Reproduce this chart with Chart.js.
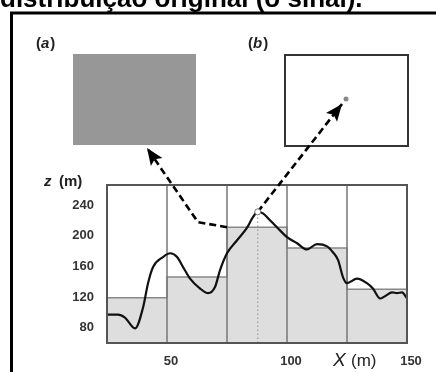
<!DOCTYPE html>
<html>
<head>
<meta charset="utf-8">
<script src="https://cdn.jsdelivr.net/npm/chart.js@4.4.0/dist/chart.umd.min.js"></script>
<style>
  body { margin: 0; background: #fff; }
  canvas { display: block; }
</style>
</head>
<body>
<canvas id="graph" width="436" height="372"></canvas>
<script>
// bins of 25 m and the mean height z in each
const binEdges = [25, 50, 75, 100, 125, 150];
const binMeans = [119, 146, 211, 184, 130];

// terrain profile z(x)
const curveX = [25, 29.6, 32.5, 36.7, 40, 42.1, 44.2, 48.3, 51.3, 54.2, 56.7, 59.6, 63.8, 67.1, 70, 72.1,
  75, 79.2, 83.3, 85.8, 87.8, 90, 92.9, 95.8, 100, 104.2, 108.3, 112.5, 116.7, 119.2, 121.3, 123.3,
  125, 129.2, 133.3, 135.8, 138.8, 140.8, 143.8, 145.8, 147.9, 150];
const curveZ = [97, 97, 93, 79, 106, 138, 159, 172, 177, 172, 159, 144, 131, 125, 133, 155,
  177, 194, 210, 224, 231, 229, 220, 211, 198, 190, 182, 189, 186, 178, 168, 146,
  138, 144, 138, 131, 118, 121, 126, 125, 126, 118];

// sampled point (peak)
const peakX = 87.8;
const peakZ = 231;

const xTicks = [50, 100, 150];
const yTicks = [80, 120, 160, 200, 240];
const yMin = 60, yMax = 266;

const FONT = '"Liberation Sans", Arial, sans-serif';

function dashedArrow(ctx, pts) {
  ctx.save();
  ctx.strokeStyle = '#000';
  ctx.fillStyle = '#000';
  ctx.lineWidth = 2.6;
  ctx.setLineDash([7, 4]);
  ctx.beginPath();
  pts.forEach((p, i) => i ? ctx.lineTo(p[0], p[1]) : ctx.moveTo(p[0], p[1]));
  ctx.stroke();
  const [x1, y1] = pts[pts.length - 2];
  const [x2, y2] = pts[pts.length - 1];
  const ang = Math.atan2(y2 - y1, x2 - x1);
  const len = 17, half = 7;
  const c = Math.cos(ang), s = Math.sin(ang);
  ctx.setLineDash([]);
  ctx.beginPath();
  ctx.moveTo(x2, y2);
  ctx.lineTo(x2 - len * c + half * s, y2 - len * s - half * c);
  ctx.lineTo(x2 - len * c * 0.8, y2 - len * s * 0.8);
  ctx.lineTo(x2 - len * c - half * s, y2 - len * s + half * c);
  ctx.closePath();
  ctx.fill();
  ctx.restore();
}

const figure = {
  id: 'figure',
  afterDatasetDraw(chart, args) {
    if (args.index !== 3) return;
    // bin dividers, full height
    const {ctx, chartArea: a, scales: {x}} = chart;
    ctx.save();
    ctx.strokeStyle = '#777';
    ctx.lineWidth = 1.5;
    binEdges.slice(1, -1).forEach(e => {
      const px = x.getPixelForValue(e);
      ctx.beginPath();
      ctx.moveTo(px, a.top);
      ctx.lineTo(px, a.bottom);
      ctx.stroke();
    });
    ctx.restore();
  },
  afterDraw(chart) {
    const {ctx, chartArea: a, scales: {x, y}} = chart;
    ctx.save();

    // plot frame
    ctx.strokeStyle = '#555';
    ctx.lineWidth = 2;
    ctx.strokeRect(a.left, a.top, a.right - a.left, a.bottom - a.top);

    // outer slide frame
    ctx.strokeStyle = '#000';
    ctx.lineWidth = 3;
    ctx.beginPath();
    ctx.moveTo(11.5, 372);
    ctx.lineTo(11.5, 13);
    ctx.lineTo(436, 13);
    ctx.stroke();

    // cut title
    let size = 21;
    const title = 'distribuição original (o sinal).';
    ctx.font = 'bold ' + size + 'px ' + FONT;
    size = size * 363 / ctx.measureText(title).width;
    ctx.font = 'bold ' + size.toFixed(1) + 'px ' + FONT;
    ctx.fillStyle = '#000';
    ctx.textBaseline = 'alphabetic';
    ctx.textAlign = 'left';
    ctx.fillText(title, 0, 7);

    // panel (a): filled cell
    ctx.fillStyle = '#979797';
    ctx.fillRect(73, 54, 123, 91);
    // panel (b): point support
    ctx.strokeStyle = '#333';
    ctx.lineWidth = 2;
    ctx.strokeRect(285, 55, 123, 91);
    ctx.fillStyle = '#888';
    ctx.beginPath();
    ctx.arc(346, 99, 2.5, 0, Math.PI * 2);
    ctx.fill();

    // panel labels
    ctx.fillStyle = '#222';
    [['(', 'a', ')', 36], ['(', 'b', ')', 248]].forEach(([o, l, c, x0]) => {
      let cx = x0;
      ctx.font = 'bold 15px ' + FONT; ctx.fillText(o, cx, 48); cx += ctx.measureText(o).width;
      ctx.font = 'italic bold 15px ' + FONT; ctx.fillText(l, cx, 48); cx += ctx.measureText(l).width + 1;
      ctx.font = 'bold 15px ' + FONT; ctx.fillText(c, cx, 48);
    });

    // arrows
    const bx = x.getPixelForValue(binEdges[2]);
    const by = y.getPixelForValue(binMeans[2]);
    dashedArrow(ctx, [[bx, by], [bx - 29, by - 5], [147, 148]]);
    const px = x.getPixelForValue(peakX);
    const py = y.getPixelForValue(peakZ);
    dashedArrow(ctx, [[px, py], [342, 104]]);

    // sampled point marker
    ctx.fillStyle = '#fff';
    ctx.strokeStyle = '#777';
    ctx.lineWidth = 1;
    ctx.beginPath();
    ctx.arc(px, py, 3, 0, Math.PI * 2);
    ctx.fill();
    ctx.stroke();

    // axis titles
    ctx.fillStyle = '#222';
    ctx.font = 'italic bold 15px ' + FONT;
    ctx.fillText('z', 44, 186);
    ctx.font = 'bold 15px ' + FONT;
    ctx.fillText('(m)', 59, 186);
    ctx.font = 'italic 19px ' + FONT;
    ctx.fillText('X', 333, 366);
    ctx.font = '17px ' + FONT;
    ctx.fillText('(m)', 351, 366);

    ctx.restore();
  }
};

new Chart(document.getElementById('graph'), {
  type: 'line',
  data: {
    datasets: [{
      label: 'z',
      data: curveX.map((v, i) => ({x: v, y: curveZ[i]})),
      borderColor: '#111',
      borderWidth: 2.2,
      pointRadius: 0,
      cubicInterpolationMode: 'monotone',
      fill: false
    }, {
      label: 'peak',
      data: [],
      pointRadius: 0
    }, {
      label: 'sample line',
      data: [{x: peakX, y: yMin}, {x: peakX, y: peakZ}],
      borderColor: '#999',
      borderWidth: 1.2,
      borderDash: [1.5, 2.5],
      pointRadius: 0,
      fill: false
    }, {
      label: 'bin means',
      data: binEdges.map((e, i) => ({x: e, y: binMeans[Math.min(i, binMeans.length - 1)]})),
      stepped: 'before',
      borderColor: '#888',
      borderWidth: 1.5,
      backgroundColor: '#dedede',
      pointRadius: 0,
      fill: 'start'
    }]
  },
  options: {
    responsive: false,
    animation: false,
    layout: {padding: {left: 0, top: 185, right: 29, bottom: 0}},
    plugins: {
      legend: {display: false},
      tooltip: {enabled: false},
      title: {display: false}
    },
    scales: {
      x: {
        type: 'linear',
        min: 25,
        max: 150,
        afterBuildTicks: s => { s.ticks = xTicks.map(v => ({value: v})); },
        afterFit: s => { s.height = 29; },
        grid: {display: false},
        border: {display: false},
        ticks: {
          color: '#333',
          labelOffset: 4,
          padding: 3,
          font: {family: FONT, size: 13, weight: 'bold'}
        }
      },
      y: {
        min: yMin,
        max: yMax,
        afterBuildTicks: s => { s.ticks = yTicks.map(v => ({value: v})); },
        afterFit: s => { s.width = 107; },
        grid: {display: false},
        border: {display: false},
        ticks: {
          color: '#333',
          padding: 5,
          font: {family: FONT, size: 13, weight: 'bold'}
        }
      }
    }
  },
  plugins: [figure]
});
</script>
</body>
</html>
